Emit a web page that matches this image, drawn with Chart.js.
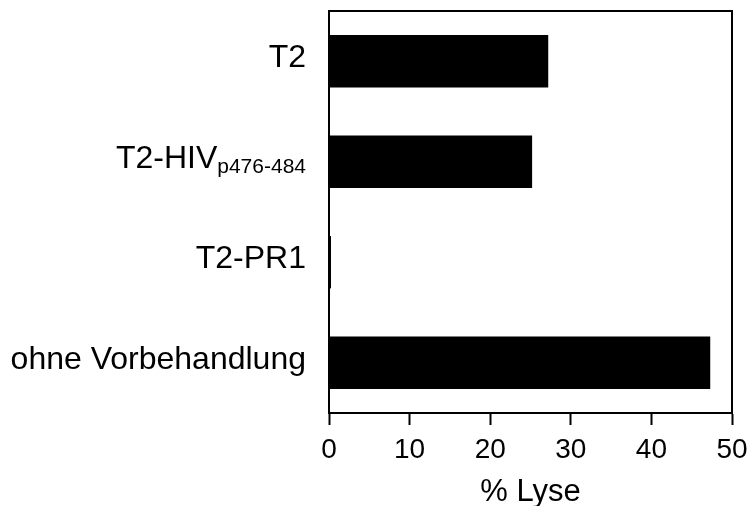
<!DOCTYPE html>
<html>
<head>
<meta charset="utf-8">
<script src="https://cdn.jsdelivr.net/npm/chart.js@4"></script>
<style>
  html, body { margin: 0; padding: 0; background: #fff; }
  #wrap { width: 751px; height: 506px; }
</style>
</head>
<body>
<div id="wrap"><canvas id="lyse-chart" width="751" height="506"></canvas></div>
<script>
  // categories, top to bottom
  var categories = ['T2', 'T2-HIV', 'T2-PR1', 'ohne Vorbehandlung'];
  var subscripts = ['', 'p476-484', '', ''];
  // % Lyse
  var lyseValues = [27.2, 25.2, 0.25, 47.3];
  var xTicks = [0, 10, 20, 30, 40, 50];

  var fontFamily = '"Liberation Sans", Arial, sans-serif';

  // frame on top and right + category labels with subscript
  var framePlugin = {
    id: 'frame',
    afterDraw: function(chart) {
      var ctx = chart.ctx;
      var area = chart.chartArea;
      ctx.save();
      ctx.strokeStyle = '#000';
      ctx.lineWidth = 2;
      ctx.beginPath();
      ctx.moveTo(area.left, area.top);
      ctx.lineTo(area.right, area.top);
      ctx.lineTo(area.right, area.bottom);
      ctx.stroke();

      var yScale = chart.scales.y;
      var xRight = area.left - 23;
      ctx.fillStyle = '#000';
      ctx.textBaseline = 'alphabetic';
      for (var i = 0; i < categories.length; i++) {
        var y = yScale.getPixelForValue(i) + 6;
        ctx.font = '32px ' + fontFamily;
        var mainW = ctx.measureText(categories[i]).width;
        var subW = 0;
        if (subscripts[i]) {
          ctx.font = '21px ' + fontFamily;
          subW = ctx.measureText(subscripts[i]).width;
        }
        ctx.textAlign = 'left';
        ctx.font = '32px ' + fontFamily;
        ctx.fillText(categories[i], xRight - subW - mainW, y);
        if (subscripts[i]) {
          ctx.font = '21px ' + fontFamily;
          ctx.fillText(subscripts[i], xRight - subW, y + 5);
        }
      }
      ctx.restore();
    }
  };

  var chart = new Chart(document.getElementById('lyse-chart').getContext('2d'), {
    type: 'bar',
    data: {
      labels: categories,
      datasets: [{
        data: lyseValues,
        backgroundColor: '#000',
        borderWidth: 0,
        barPercentage: 0.52,
        categoryPercentage: 1.0
      }]
    },
    options: {
      indexAxis: 'y',
      responsive: false,
      animation: false,
      layout: {
        padding: { top: 11, right: 19, left: 0, bottom: 0 }
      },
      plugins: {
        legend: { display: false },
        tooltip: { enabled: false }
      },
      scales: {
        x: {
          type: 'linear',
          min: 0,
          max: 50,
          afterBuildTicks: function(scale) {
            scale.ticks = xTicks.map(function(v) { return { value: v }; });
          },
          afterFit: function(scale) {
            scale.height = 93;
            scale.paddingRight = 0;
            scale.paddingLeft = 0;
          },
          border: { display: true, color: '#000', width: 2 },
          grid: {
            drawOnChartArea: false,
            drawTicks: true,
            tickLength: 12,
            tickWidth: 2,
            tickColor: '#000'
          },
          ticks: {
            color: '#000',
            padding: 8,
            maxRotation: 0,
            font: { family: fontFamily, size: 28 }
          },
          title: {
            display: true,
            text: '% Lyse',
            color: '#000',
            padding: { top: 6, bottom: -5 },
            font: { family: fontFamily, size: 31 }
          }
        },
        y: {
          type: 'category',
          afterFit: function(scale) {
            scale.width = 329;
          },
          border: { display: true, color: '#000', width: 2 },
          grid: { display: false },
          ticks: { display: false }
        }
      }
    },
    plugins: [framePlugin]
  });
</script>
</body>
</html>
